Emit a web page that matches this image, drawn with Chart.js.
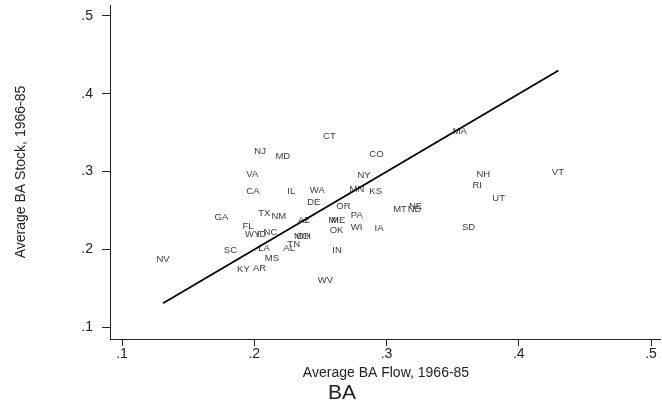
<!DOCTYPE html>
<html>
<head>
<meta charset="utf-8">
<script src="https://cdn.jsdelivr.net/npm/chart.js@4"></script>
<style>
  html, body { margin: 0; padding: 0; background: #fff; }
  #wrap { width: 662px; height: 402px; position: relative; }
</style>
</head>
<body>
<div id="wrap"><canvas id="chart" width="662" height="402"></canvas></div>
<script>
// state labels and their (flow, stock) averages, 1966-85
const states = ['NV','KY','AR','MS','SC','LA','AL','TN','WY','ID','NC','FL','GA','TX','NM','AZ','MO','OH',
                'CA','VA','NJ','MD','IL','WA','DE','CT','CO','NY','MN','KS','OR','MI','ME','OK','PA','WI',
                'IA','IN','WV','MT','NE','ND','MA','NH','RI','UT','SD','VT'];
const flow = [0.126,0.187,0.199,0.208,0.177,0.203,0.222,0.225,0.193,0.202,0.207,0.191,0.170,0.203,0.213,0.233,0.230,0.232,
              0.194,0.194,0.200,0.216,0.225,0.242,0.240,0.252,0.287,0.278,0.272,0.287,0.262,0.256,0.258,0.257,0.273,0.273,
              0.291,0.259,0.248,0.305,0.317,0.316,0.350,0.368,0.365,0.380,0.357,0.425];
const stock = [0.187,0.175,0.176,0.188,0.199,0.202,0.202,0.207,0.220,0.220,0.222,0.230,0.241,0.246,0.243,0.238,0.217,0.217,
               0.274,0.297,0.326,0.319,0.274,0.276,0.260,0.345,0.322,0.295,0.277,0.275,0.256,0.238,0.238,0.224,0.244,0.229,
               0.227,0.199,0.160,0.252,0.255,0.252,0.352,0.297,0.282,0.265,0.229,0.299];

// 45-degree reference line
const lineX = [0.131, 0.430];
const lineY = [0.131, 0.430];

const tickValues = [0.1, 0.2, 0.3, 0.4, 0.5];
const tickLabels = ['.1', '.2', '.3', '.4', '.5'];

const FONT = '"Liberation Sans", Arial, sans-serif';

const stateLabels = {
  id: 'stateLabels',
  beforeDatasetsDraw(chart) {
    const ctx = chart.ctx;
    const meta = chart.getDatasetMeta(0);
    ctx.save();
    ctx.font = '9.5px ' + FONT;
    ctx.fillStyle = '#3a3a3a';
    ctx.textAlign = 'left';
    ctx.textBaseline = 'middle';
    meta.data.forEach((pt, i) => {
      ctx.fillText(states[i], pt.x, pt.y);
    });
    ctx.restore();
  }
};

const axisTitles = {
  id: 'axisTitles',
  afterDraw(chart) {
    const ctx = chart.ctx;
    ctx.save();
    ctx.fillStyle = '#222';
    ctx.textAlign = 'center';
    ctx.textBaseline = 'alphabetic';
    ctx.font = '14px ' + FONT;
    ctx.fillText('Average BA Flow, 1966-85', 386, 377);
    ctx.font = '21px ' + FONT;
    ctx.fillText('BA', 342, 399);
    ctx.translate(25, 172);
    ctx.rotate(-Math.PI / 2);
    ctx.font = '14px ' + FONT;
    ctx.fillText('Average BA Stock, 1966-85', 0, 0);
    ctx.restore();
  }
};

new Chart(document.getElementById('chart'), {
  type: 'scatter',
  data: {
    datasets: [
      {
        label: 'states',
        data: states.map((s, i) => ({ x: flow[i], y: stock[i] })),
        pointRadius: 0,
        pointHoverRadius: 0
      },
      {
        label: 'line',
        type: 'line',
        data: lineX.map((x, i) => ({ x: x, y: lineY[i] })),
        borderColor: '#000',
        borderWidth: 1.8,
        pointRadius: 0,
        fill: false
      }
    ]
  },
  options: {
    responsive: false,
    animation: false,
    layout: { padding: { left: 0, top: 5, right: 2, bottom: 0 } },
    plugins: { legend: { display: false }, tooltip: { enabled: false } },
    scales: {
      x: {
        type: 'linear',
        min: 0.0909,
        max: 0.5068,
        afterBuildTicks: s => { s.ticks = tickValues.map(v => ({ value: v })); },
        afterFit: s => { s.height = 63; s.paddingLeft = 0; s.paddingRight = 0; },
        grid: { drawOnChartArea: false, drawTicks: true, tickLength: 7, tickColor: '#222' },
        border: { display: true, color: '#222', width: 1 },
        ticks: {
          callback: (v, i) => tickLabels[i],
          color: '#222',
          font: { size: 14, family: FONT },
          padding: 0,
          maxRotation: 0
        }
      },
      y: {
        type: 'linear',
        min: 0.08496,
        max: 0.5141,
        afterBuildTicks: s => { s.ticks = tickValues.map(v => ({ value: v })); },
        afterFit: s => { s.width = 110; s.paddingTop = 0; s.paddingBottom = 0; },
        grid: { drawOnChartArea: false, drawTicks: true, tickLength: 8, tickColor: '#222' },
        border: { display: true, color: '#222', width: 1 },
        ticks: {
          callback: (v, i) => tickLabels[i],
          color: '#222',
          font: { size: 14, family: FONT },
          padding: 9
        }
      }
    }
  },
  plugins: [stateLabels, axisTitles]
});
</script>
</body>
</html>
